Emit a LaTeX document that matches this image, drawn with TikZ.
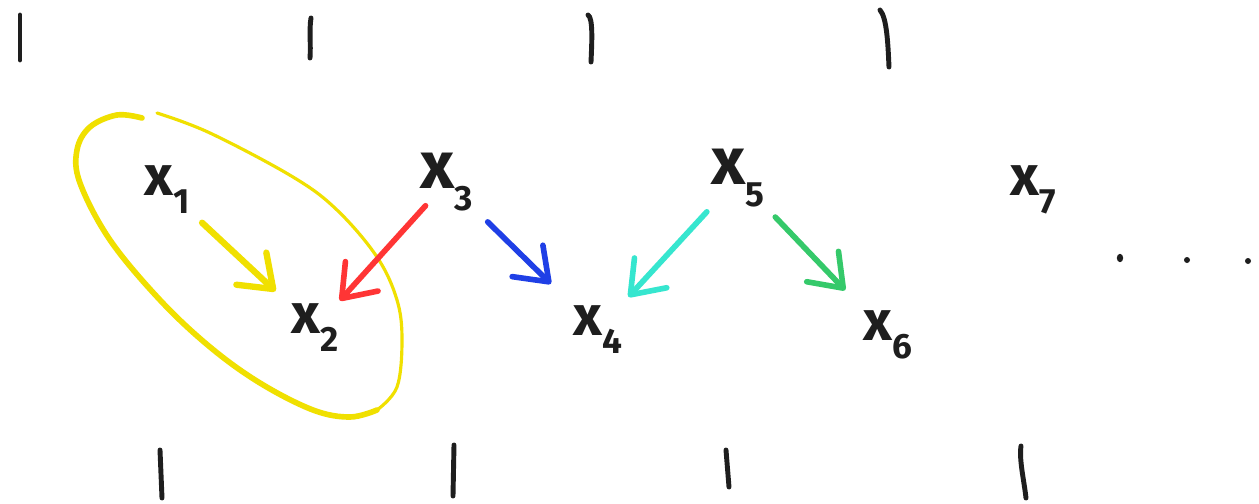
\documentclass[tikz,border=0pt]{standalone}
\usepackage{fontspec}
\setmainfont{Fira Sans}
\usetikzlibrary{arrows.meta}
\definecolor{ink}{HTML}{1E1E1E}
\definecolor{hlyellow}{HTML}{F0E000}
\definecolor{hred}{HTML}{FF3535}
\definecolor{hblue}{HTML}{1F3FE6}
\definecolor{hcyan}{HTML}{36E6CF}
\definecolor{hgreen}{HTML}{35C96A}
\newcommand{\xsub}[2][32]{\fontsize{#1}{#1}\selectfont x\raisebox{-0.32em}{\fontsize{20}{20}\selectfont #2}}
\tikzset{
  var/.style={text=ink, font=\bfseries, inner sep=0pt},
  tick/.style={draw=ink, line width=2.8pt, line cap=round},
  harrow/.style={line width=3.2pt, line cap=round,
    -{Straight Barb[length=17pt,width=25pt,round]}},
  dotmark/.style={fill=ink}
}
\begin{document}
\begin{tikzpicture}[x=0.02cm,y=-0.02cm]
\useasboundingbox[fill=white] (0,0) rectangle (1259,504);

% ticks top
\draw[tick] (20,15) -- (20,60);
\draw[tick] (311,18) .. controls (309,30) and (311,45) .. (310,58);
\draw[tick] (588,15) .. controls (593,18) and (592,40) .. (591,62);
\draw[tick] (880,10) .. controls (887,18) and (888,45) .. (889,67);
% ticks bottom
\draw[tick] (160,450) -- (162,498);
\draw[tick] (454,445) -- (453,496);
\draw[tick] (726,450) -- (729,487);
\draw[tick] (1021,446) .. controls (1019,460) and (1024,480) .. (1026,498);

% yellow loop
\draw[hlyellow, line width=1.8pt, line cap=round]
  plot[smooth, tension=0.6] coordinates {(157,113) (210,133) (293,177) (337,210) (377,257) (397,300) (402,340) (397,387) (377,410)};
\draw[hlyellow, line width=3.2pt, line cap=round]
  plot[smooth, tension=0.6] coordinates {(377,410) (350,417) (313,410) (260,383) (210,347) (160,300) (110,240) (80,183) (77,150) (90,127) (117,115) (142,118)};

% variables
\node[var] (x1) at (167,190) {\xsub{1}};
\node[var] (x2) at (315,328) {\xsub{2}};
\node[var] (x3) at (447,182) {\xsub[38]{3}};
\node[var] (x4) at (598,330) {\xsub{4}};
\node[var] (x5) at (738,178) {\xsub[38]{5}};
\node[var] (x6) at (888,335) {\xsub{6}};
\node[var] (x7) at (1033,190) {\xsub{7}};

% dots
\fill[dotmark] (1120,258) ellipse (3.2 and 4.2);
\fill[dotmark] (1187,260) circle (3);
\fill[dotmark] (1248,261) circle (3);

% arrows
\draw[harrow, hlyellow, line width=3.6pt] (x1.center) -- (x2.center)
  [shorten <=0.96cm, shorten >=1.08cm];
\draw[harrow, hred] (x3.center) -- (x2.center)
  [shorten <=0.64cm, shorten >=0.74cm];
\draw[harrow, hblue] (x3.center) -- (x4.center)
  [shorten <=1.14cm, shorten >=1.32cm];
\draw[harrow, hcyan] (x5.center) -- (x4.center)
  [shorten <=0.92cm, shorten >=0.9cm];
\draw[harrow, hgreen] (x5.center) -- (x6.center)
  [shorten <=1.08cm, shorten >=1.24cm];
\end{tikzpicture}
\end{document}
